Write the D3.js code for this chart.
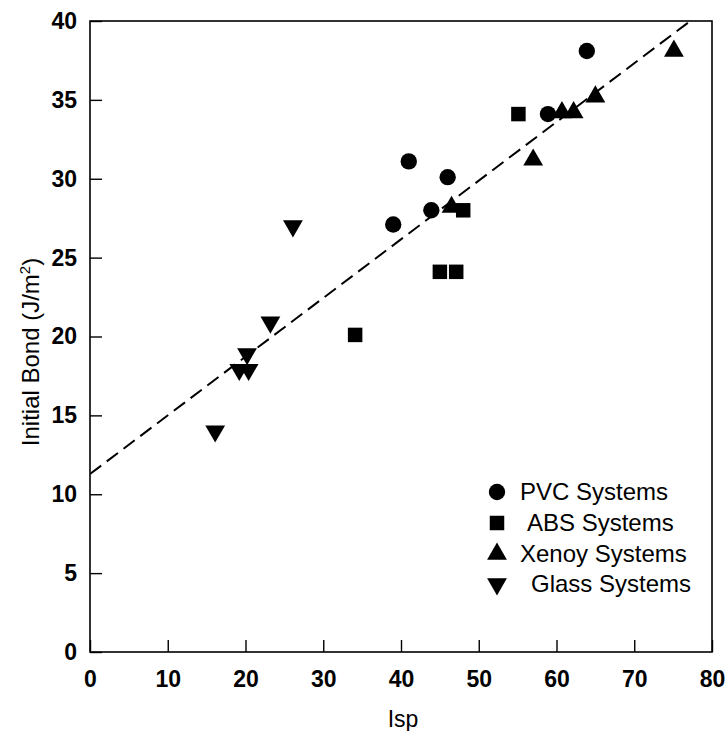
<!DOCTYPE html>
<html><head><meta charset="utf-8">
<script src="https://cdn.jsdelivr.net/npm/d3@7"></script>
<style>
html,body{margin:0;padding:0;background:#fff;}
svg{display:block;font-family:"Liberation Sans",Arial,sans-serif;}
</style></head>
<body>
<svg id="chart" width="727" height="731"></svg>
<script>
// Data
const pvc = [[39,27.1],[41,31.1],[43.9,28],[46,30.1],[58.9,34.1],[63.9,38.1]];
const abs = [[34.1,20.1],[45,24.1],[47.1,24.1],[48,28],[55.1,34.1]];
const xenoy = [[46.5,28.2],[57,31.2],[60.7,34.2],[62.2,34.2],[65,35.2],[75.1,38.1]];
const glass = [[16.1,14],[19.2,17.9],[20.4,17.9],[20.2,18.9],[23.2,20.9],[26.1,27]];
const fitIntercept = 11.28;
const fitSlope = 0.372;
const xTicks = [0,10,20,30,40,50,60,70,80];
const yTicks = [0,5,10,15,20,25,30,35,40];
const legendLabels = ["PVC Systems","ABS Systems","Xenoy Systems","Glass Systems"];

const svg = d3.select("#chart");
const L = 90, R = 712, T = 21, B = 652;
const x = d3.scaleLinear().domain([0,80]).range([L,R]);
const y = d3.scaleLinear().domain([0,40]).range([B,T]);

svg.append("defs").append("clipPath").attr("id","clip")
  .append("rect").attr("x",L).attr("y",T).attr("width",R-L).attr("height",B-T);

// frame
svg.append("rect").attr("x",L).attr("y",T).attr("width",R-L).attr("height",B-T)
  .attr("fill","none").attr("stroke","#000").attr("stroke-width",1.6);

// axes
const xAxis = d3.axisBottom(x).tickValues(xTicks).tickSizeInner(-12).tickSizeOuter(0).tickPadding(20);
const gx = svg.append("g").attr("transform",`translate(0,${B})`).call(xAxis);
const yAxis = d3.axisLeft(y).tickValues(yTicks).tickSizeInner(-12).tickSizeOuter(0).tickPadding(13);
const gy = svg.append("g").attr("transform",`translate(${L},0)`).call(yAxis);
[gx,gy].forEach(g=>{
  g.select(".domain").remove();
  g.selectAll(".tick line").attr("stroke","#000").attr("stroke-width",1.4);
  g.selectAll(".tick text").attr("fill","#000").style("font-size","23px").style("font-weight","bold")
    .style("font-family","Liberation Sans, Arial, sans-serif");
});
gx.selectAll(".tick text").attr("dy","0.66em");

// axis titles
svg.append("text").attr("x",(L+R)/2 + 2).attr("y",727).attr("text-anchor","middle")
  .style("font-size","23px").text("Isp");
const yt = svg.append("text").attr("transform","translate(39,352) rotate(-90)")
  .attr("text-anchor","middle").style("font-size","24px");
yt.append("tspan").text("Initial Bond (J/m");
yt.append("tspan").attr("dy","-9").style("font-size","15px").text("2");
yt.append("tspan").attr("dy","9").text(")");

// fit line
const fitX = [0, (40-fitIntercept)/fitSlope];
svg.append("line").attr("clip-path","url(#clip)")
  .attr("x1",x(fitX[0])).attr("y1",y(fitIntercept+fitSlope*fitX[0]))
  .attr("x2",x(fitX[1])).attr("y2",y(fitIntercept+fitSlope*fitX[1]))
  .attr("stroke","#000").attr("stroke-width",2).attr("stroke-dasharray","14,7");

// markers
const sym = {
  circle: d3.symbol().type(d3.symbolCircle).size(210),
  square: d3.symbol().type(d3.symbolSquare).size(210),
  up: d3.symbol().type(d3.symbolTriangle).size(170),
};
function draw(data, kind){
  const g = svg.append("g");
  data.forEach(d=>{
    const px = x(d[0]), py = y(d[1]);
    let t = `translate(${px},${py})`;
    let gen = sym[kind];
    if(kind==="down"){ gen = sym.up; t += " rotate(180)"; }
    g.append("path").attr("d",gen()).attr("transform",t).attr("fill","#000");
  });
}
draw(pvc,"circle"); draw(abs,"square"); draw(xenoy,"up"); draw(glass,"down");

// legend
const kinds = ["circle","square","up","down"];
const rowsY = [492,523,554,584];
const textX = [520,527,520,531];
legendLabels.forEach((lab,i)=>{
  let t = `translate(497,${rowsY[i]})`;
  let gen = sym[kinds[i]];
  if(kinds[i]==="down"){ gen = sym.up; t += " rotate(180)"; }
  svg.append("path").attr("d",gen()).attr("transform",t).attr("fill","#000");
  svg.append("text").attr("x",textX[i]).attr("y",rowsY[i]).attr("dy","0.35em")
    .style("font-size","24px").text(lab);
});
</script>
</body></html>
